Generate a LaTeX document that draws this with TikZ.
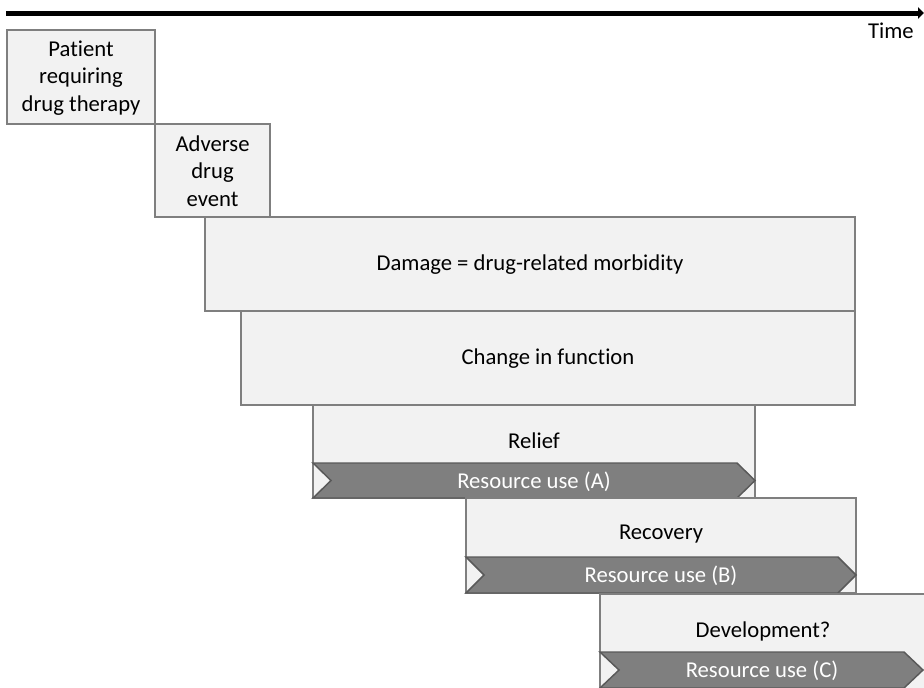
\documentclass[tikz,border=0pt]{standalone}
\usepackage{fontspec}
\setmainfont{Carlito}[Ligatures=CommonOff]
\usetikzlibrary{arrows.meta}

\begin{document}
\begin{tikzpicture}[x=0.75pt,y=0.75pt,yscale=-1,xscale=1,
    stagebox/.style={draw={rgb, 255:red, 127; green, 127; blue, 127 },fill={rgb, 255:red, 242; green, 242; blue, 242 },line width=1.5},
    resbar/.style={draw={rgb, 255:red, 89; green, 89; blue, 89 },fill={rgb, 255:red, 127; green, 127; blue, 127 },line width=1.1,line join=miter},
    stagetext/.style={align=center,inner sep=0,font=\fontsize{17}{20.5}\selectfont},
    restext/.style={stagetext,text=white}]
                \useasboundingbox (0,0) rectangle (924,687);
                \clip (0,0) rectangle (924,687);
                %Time axis
                \coordinate (tstart) at (6,13);
                \coordinate (tend) at (924,13);
                \draw [line width=3.75,-{Triangle[length=4.5pt,width=8.5pt]}]    (tstart) -- (tend) ;
                \node [stagetext,anchor=east] (timelabel) at (914,31) {Time};
                %Shape: Rectangle [patient]
                \draw [stagebox]  (7,30) rectangle (155,124) ;
                \node [stagetext] (patient) at (81,78) {Patient\\requiring\\drug therapy};
                %Shape: Rectangle [adverse event]
                \draw [stagebox]  (155,124) rectangle (270,217) ;
                \node [stagetext] (adverse) at (212.5,171) {Adverse\\drug\\event};
                %Shape: Rectangle [damage]
                \draw [stagebox]  (205,217) rectangle (855,311) ;
                \node [stagetext] (damage) at (530,265) {Damage = drug-related morbidity};
                %Shape: Rectangle [change]
                \draw [stagebox]  (241,311) rectangle (855,405) ;
                \node [stagetext] (change) at (548,359) {Change in function};
                %Shape: Rectangle [relief]
                \draw [stagebox]  (313,405) rectangle (755,498) ;
                \node [stagetext] (relief) at (534,441) {Relief};
                %Shape: Chevron [resource A]
                \draw [resbar]  (313,463) -- (737,463) -- (755,480.5) -- (737,498) -- (313,498) -- (331,480.5) -- cycle ;
                \node [restext] (useA) at (534,482) {Resource use (A)};
                %Shape: Rectangle [recovery]
                \draw [stagebox]  (466,498) rectangle (856,593) ;
                \node [stagetext] (recovery) at (661,534) {Recovery};
                %Shape: Chevron [resource B]
                \draw [resbar]  (466,557) -- (838,557) -- (856,575) -- (838,593) -- (466,593) -- (484,575) -- cycle ;
                \node [restext] (useB) at (661,576) {Resource use (B)};
                %Shape: Rectangle [development]
                \draw [stagebox]  (600,594) rectangle (940,700) ;
                \node [stagetext] (development) at (763,631) {Development?};
                %Shape: Chevron [resource C]
                \draw [resbar]  (600,652) -- (904,652) -- (923,670) -- (904,688) -- (600,688) -- (619,670) -- cycle ;
                \node [restext] (useC) at (762,671) {Resource use (C)};
\end{tikzpicture}
\end{document}
